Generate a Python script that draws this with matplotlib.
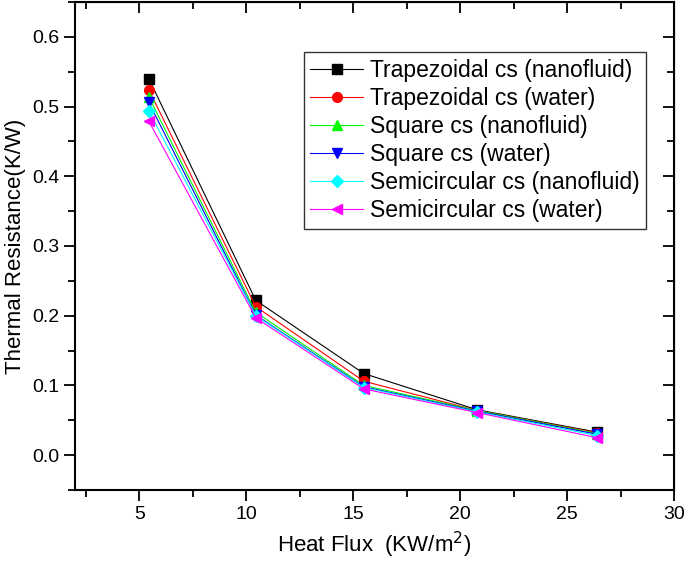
import matplotlib
matplotlib.use("Agg")
import matplotlib.pyplot as plt
from matplotlib.ticker import MultipleLocator

plt.rcParams['font.family'] = ['Liberation Sans', 'DejaVu Sans']

# Heat flux (KW/m^2) and thermal resistance (K/W) for each channel / fluid
heat_flux = [5.45, 10.45, 15.5, 20.8, 26.4]
labels = [
    "Trapezoidal cs (nanofluid)",
    "Trapezoidal cs (water)",
    "Square cs (nanofluid)",
    "Square cs (water)",
    "Semicircular cs (nanofluid)",
    "Semicircular cs (water)",
]
trap_nano = [0.540, 0.222, 0.117, 0.065, 0.033]
trap_water = [0.524, 0.213, 0.106, 0.064, 0.032]
square_nano = [0.514, 0.205, 0.100, 0.064, 0.031]
square_water = [0.506, 0.201, 0.098, 0.063, 0.030]
semi_nano = [0.494, 0.200, 0.097, 0.062, 0.028]
semi_water = [0.479, 0.197, 0.095, 0.061, 0.025]

series = [trap_nano, trap_water, square_nano, square_water, semi_nano, semi_water]
colors = ['black', 'red', '#00ff00', 'blue', 'cyan', 'magenta']
markers = ['s', 'o', '^', 'v', 'D', '<']
sizes = [7, 7, 7.5, 7.5, 6.5, 7.5]

fig = plt.figure(figsize=(6.85, 5.61), dpi=100)
ax = fig.add_axes([0.1095, 0.1266, 0.8745, 0.8698])

for vals, lab, c, m, s in zip(series, labels, colors, markers, sizes):
    ax.plot(heat_flux, vals, color=c, marker=m, markersize=s, linewidth=0.8,
            label=lab)

ax.set_xlim(2, 30)
ax.set_ylim(-0.05, 0.65)
ax.xaxis.set_major_locator(MultipleLocator(5))
ax.xaxis.set_minor_locator(MultipleLocator(2.5))
ax.yaxis.set_major_locator(MultipleLocator(0.1))
ax.yaxis.set_minor_locator(MultipleLocator(0.05))
ax.yaxis.set_major_formatter(matplotlib.ticker.FormatStrFormatter('%.1f'))

ax.tick_params(which='major', direction='out', length=8, width=1.3, labelsize=14)
ax.tick_params(which='minor', direction='out', length=5, width=1.3)
for sp in ax.spines.values():
    sp.set_linewidth(1.5)

# mirrored axes with inward ticks
top = ax.secondary_xaxis('top')
top.xaxis.set_major_locator(MultipleLocator(5))
top.xaxis.set_minor_locator(MultipleLocator(2.5))
top.tick_params(which='major', direction='in', length=8, width=1.3, labeltop=False)
top.tick_params(which='minor', direction='in', length=5, width=1.3)
right = ax.secondary_yaxis('right')
right.yaxis.set_major_locator(MultipleLocator(0.1))
right.yaxis.set_minor_locator(MultipleLocator(0.05))
right.tick_params(which='major', direction='in', length=8, width=1.3, labelright=False)
right.tick_params(which='minor', direction='in', length=5, width=1.3)

ax.set_xlabel("Heat Flux  (KW/m$^2$)", fontsize=16, labelpad=5)
ax.set_ylabel("Thermal Resistance(K/W)", fontsize=16, labelpad=4)

leg = ax.legend(loc='upper left', bbox_to_anchor=(0.3815, 0.8975), fontsize=16.5,
                frameon=True, fancybox=False, framealpha=1, edgecolor='#333333',
                handlelength=2.3, handletextpad=0.3, labelspacing=0.22,
                borderpad=0.3, borderaxespad=0)
leg.get_frame().set_linewidth(1.0)

fig.savefig("out.png", dpi=100)
